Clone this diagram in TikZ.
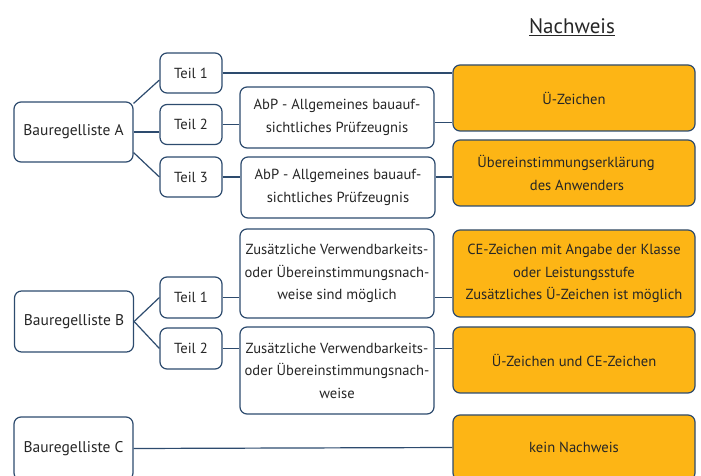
\documentclass[tikz,border=0pt]{standalone}
\usepackage{fontspec}
\setmainfont{PT Sans}
\usepackage{tikz}
\definecolor{rahmen}{HTML}{2D4B6E}
\definecolor{gold}{HTML}{FDB515}
\definecolor{schrift}{HTML}{262626}

\begin{document}
\begin{tikzpicture}[x=1pt,y=1pt,
	kasten/.style={draw=rahmen,line width=1.2pt,rounded corners=7pt,fill=white,text=schrift,align=center,inner sep=1pt,font=\fontsize{14.6}{22.5}\selectfont},
	teil/.style={kasten,minimum width=62pt,minimum height=40pt},
	liste/.style={kasten,minimum width=119pt,minimum height=60pt,font=\fontsize{15.5}{22.5}\selectfont},
	erklaerung/.style={kasten,minimum width=194pt,minimum height=61pt},
	nachweis/.style={kasten,fill=gold,minimum width=242pt,minimum height=66pt},
	linie/.style={draw=rahmen,line width=1.2pt}]
	\clip (0,0) rectangle (701,476);
	\node[text=schrift,font=\fontsize{21}{24}\selectfont] (titel) at (572,449) {\underline{Nachweis}};
	\node[liste] (BA) at (73.5,344) {Bauregelliste A};
	\node[teil] (TA1) at (191,403) {Teil 1};
	\node[teil] (TA2) at (191,351.5) {Teil 2};
	\node[teil] (TA3) at (191,299) {Teil 3};
	\node[erklaerung] (AbP1) at (337,358.5) {AbP - Allgemeines bauauf-\\sichtliches Prüfzeugnis};
	\node[erklaerung] (AbP2) at (338,288.5) {AbP - Allgemeines bauauf-\\sichtliches Prüfzeugnis};
	\node[nachweis] (UZ) at (574,378) {Ü-Zeichen};
	\node[nachweis] (UE) at (574,303) {Übereinstimmungserklärung\hspace*{16pt}\\\hspace*{6pt}des Anwenders};
	\node[liste,minimum height=61pt] (BB) at (74,154.5) {Bauregelliste B};
	\node[teil,minimum height=41pt] (TB1) at (191,178.5) {Teil 1};
	\node[teil,minimum height=41pt] (TB2) at (191,127.5) {Teil 2};
	\node[erklaerung,minimum height=89pt] (Z1) at (337,202.5) {Zusätzliche Verwendbarkeits-\\oder Übereinstimmungsnach-\\weise sind möglich};
	\node[erklaerung,minimum height=87pt] (Z2) at (337,105.5) {Zusätzliche Verwendbarkeits-\\oder Übereinstimmungsnach-\\weise};
	\node[nachweis,minimum height=87pt] (CE) at (574,202.5) {CE-Zeichen mit Angabe der Klasse\\oder Leistungsstufe\\Zusätzliches Ü-Zeichen ist möglich};
	\node[nachweis] (UCE) at (574,116) {Ü-Zeichen und CE-Zeichen};
	\node[liste,minimum height=63pt] (BC) at (73.5,27.5) {Bauregelliste C};
	\node[nachweis,minimum height=65pt] (KN) at (574,28.5) {kein Nachweis};
	\draw[linie] ([yshift=-2pt]BA.north east) -- ([yshift=-7pt]TA1.west);
	\draw[linie] (BA.east) -- (BA.east -| TA2.west);
	\draw[linie] ([yshift=10pt]BA.south east) -- (TA3.west);
	\draw[linie] (TA1.east) -- (TA1.east -| UZ.west);
	\draw[linie] (TA2.east) -- (TA2.east -| AbP1.west);
	\draw[linie] ([yshift=-5pt]AbP1.east) -- ([yshift=-5pt]AbP1.east -| UZ.west);
	\draw[linie] (TA3.east) -- (TA3.east -| AbP2.west);
	\draw[linie] (AbP2.east |- TA3.east) -- (TA3.east -| UE.west);
	\draw[linie] (BB.east) -- (TB1.west);
	\draw[linie] (BB.east) -- (TB2.west);
	\draw[linie] (TB1.east) -- (TB1.east -| Z1.west);
	\draw[linie] (Z1.east |- TB1.east) -- (TB1.east -| CE.west);
	\draw[linie] (TB2.east) -- (TB2.east -| Z2.west);
	\draw[linie] (Z2.east |- TB2.east) -- (TB2.east -| UCE.west);
	\draw[linie] (BC.east) -- (KN.west);
\end{tikzpicture}
\end{document}
